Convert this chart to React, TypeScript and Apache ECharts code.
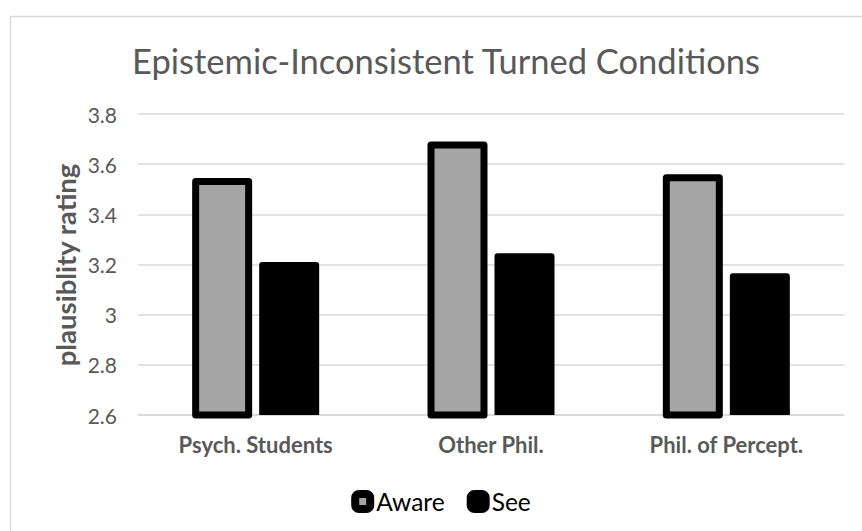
import React, { useEffect, useRef } from "react";
import * as echarts from "echarts";

const categories = ["Psych. Students", "Other Phil.", "Phil. of Percept."];
const awareValues = [3.545, 3.69, 3.56];
const seeValues = [3.21, 3.245, 3.165];
const yMin = 2.6;
const yMax = 3.8;
const yStep = 0.2;

const FONT = "Lato, 'Open Sans', sans-serif";
const LABEL_GRAY = "#595959";
const GRID_GRAY = "#D9D9D9";

export default function App() {
  const ref = useRef<HTMLDivElement>(null);

  useEffect(() => {
    if (!ref.current) return;
    const chart = echarts.init(ref.current, null, { renderer: "svg" });
    chart.setOption({
      animation: false,
      backgroundColor: "#fff",
      textStyle: { fontFamily: FONT },
      title: {
        text: "Epistemic-Inconsistent Turned Conditions",
        left: 441,
        textAlign: "center",
        top: 38,
        textStyle: {
          fontFamily: FONT,
          fontSize: 34.5,
          fontWeight: "normal",
          color: LABEL_GRAY,
        },
      },
      graphic: [
        {
          type: "rect",
          left: 8,
          top: 14,
          shape: { x: 0, y: 0, width: 866, height: 600 },
          style: { fill: "none", stroke: GRID_GRAY, lineWidth: 1.3 },
          silent: true,
          z: -1,
        },
        {
          type: "text",
          x: 65,
          y: 265,
          rotation: Math.PI / 2,
          style: {
            text: "plausiblity rating",
            fontFamily: FONT,
            fontSize: 27.5,
            fontWeight: "bold",
            fill: LABEL_GRAY,
            align: "center",
            verticalAlign: "middle",
          },
        },
      ],
      legend: {
        top: 484,
        left: 441,
        itemWidth: 15,
        itemHeight: 15,
        itemGap: 22,
        icon: "roundRect",
        textStyle: { fontFamily: FONT, fontSize: 24.5, color: "#000", padding: [0, 0, 0, 1] },
        data: [
          {
            name: "Aware",
            itemStyle: { borderWidth: 8, borderColor: "#000", color: "#A5A5A5" },
          },
          {
            name: "See",
            itemStyle: { borderWidth: 8, borderColor: "#000", color: "#000" },
          },
        ],
      },
      grid: { left: 138, right: 18, top: 114, bottom: 116 },
      xAxis: {
        type: "category",
        data: categories,
        axisTick: { show: false },
        axisLine: { show: true, lineStyle: { color: GRID_GRAY, width: 1.5 } },
        axisLabel: {
          margin: 18,
          fontFamily: FONT,
          fontSize: 22,
          fontWeight: "bold",
          color: LABEL_GRAY,
        },
      },
      yAxis: {
        type: "value",
        min: yMin,
        max: yMax,
        interval: yStep,
        axisLine: { show: false },
        axisTick: { show: false },
        splitLine: { lineStyle: { color: GRID_GRAY, width: 1.5 } },
        axisLabel: {
          margin: 21,
          fontFamily: FONT,
          fontSize: 21,
          color: LABEL_GRAY,
        },
      },
      series: [
        {
          name: "Aware",
          type: "bar",
          data: awareValues,
          barWidth: 60,
          barGap: "11.7%",
          itemStyle: {
            color: "#A5A5A5",
            borderColor: "#000",
            borderWidth: 7,
            borderJoin: "round",
          },
        },
        {
          name: "See",
          type: "bar",
          data: seeValues,
          barWidth: 60,
          barGap: "11.7%",
          itemStyle: {
            color: "#000",
            borderRadius: [3, 3, 0, 0],
          },
        },
      ],
    });
    // Centre the legend horizontally on the title's axis.
    const legendView: any = (chart as any).getViewOfComponentModel?.(
      (chart as any).getModel().getComponent("legend")
    );
    if (legendView && legendView.group) {
      const rect = legendView.group.getBoundingRect();
      chart.setOption({ legend: { left: 441 - rect.width / 2 } });
    }
    return () => chart.dispose();
  }, []);

  return (
    <div
      ref={ref}
      style={{ position: "absolute", left: 0, top: 0, width: 862, height: 531 }}
    />
  );
}
